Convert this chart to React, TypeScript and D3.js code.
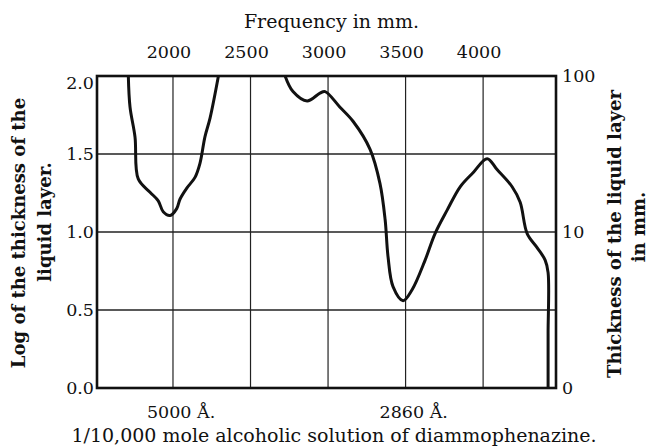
import React from 'react';
import * as d3 from 'd3';

// frequency ticks along the top (per mm)
const freqTicks = [2000, 2500, 3000, 3500, 4000];
const logTicks = [0, 0.5, 1.0, 1.5, 2.0];
const logLabels = ['0.0', '0.5', '1.0', '1.5', '2.0'];
const thickTicks = [0, 1, 2];
const thickLabels = ['0', '10', '100'];
const waveMarks = [2000, 3500];
const waveLabels = ['5000 Å.', '2860 Å.'];

// absorption curve: [frequency, log thickness]
const band1: [number, number][] = [
  [1712, 2.0], [1723, 1.8], [1755, 1.61], [1776, 1.34], [1852, 1.255],
  [1905, 1.2], [1937, 1.13], [1981, 1.106], [2024, 1.15], [2045, 1.21],
  [2088, 1.28], [2142, 1.35], [2174, 1.44], [2206, 1.61], [2239, 1.73],
  [2293, 2.0],
];
const band2: [number, number][] = [
  [2723, 2.0], [2774, 1.9], [2865, 1.84], [2948, 1.89], [2981, 1.9],
  [3077, 1.8], [3161, 1.71], [3271, 1.53], [3335, 1.31], [3368, 1.08],
  [3387, 0.84], [3419, 0.65], [3484, 0.56], [3542, 0.63], [3626, 0.82],
  [3690, 0.99], [3768, 1.14], [3852, 1.29], [3935, 1.38], [4026, 1.47],
  [4090, 1.4], [4187, 1.29], [4239, 1.19], [4284, 0.99], [4348, 0.9],
  [4400, 0.82], [4419, 0.74], [4419, 0.35], [4419, 0.0],
];

const W = 654, H = 447;
const margin = { top: 76, right: 98, bottom: 59, left: 97 };
const font = "'DejaVu Serif', serif";

export default function App() {
  const x = d3.scaleLinear().domain([1510, 4470]).range([margin.left, W - margin.right]);
  const y = d3.scaleLinear().domain([0, 2]).range([H - margin.bottom, margin.top]);
  const line = d3.line<[number, number]>()
    .x(d => x(d[0]))
    .y(d => y(d[1]))
    .curve(d3.curveCatmullRom.alpha(0.5));

  const x0 = x.range()[0], x1 = x.range()[1];
  const y0 = y.range()[0], y1 = y.range()[1];

  return (
    <svg width={W} height={H} style={{ position: 'absolute', left: 0, top: 0, background: '#fff' }}
      fontFamily={font} fill="#111">
      {/* grid */}
      {freqTicks.map(f => (
        <line key={'v' + f} x1={x(f)} x2={x(f)} y1={y1} y2={y0} stroke="#222" strokeWidth={1.2} />
      ))}
      {logTicks.slice(1, 4).map(v => (
        <line key={'h' + v} x1={x0} x2={x1} y1={y(v)} y2={y(v)} stroke="#222" strokeWidth={1.3} />
      ))}
      <rect x={x0} y={y1} width={x1 - x0} height={y0 - y1} fill="none" stroke="#111" strokeWidth={2.6} />

      {/* curve */}
      <path d={line(band1) || ''} fill="none" stroke="#111" strokeWidth={3} strokeLinejoin="round" />
      <path d={line(band2) || ''} fill="none" stroke="#111" strokeWidth={3} strokeLinejoin="round" />

      {/* top axis */}
      <text x={(x0 + x1) / 2 + 5} y={28} textAnchor="middle" fontSize={19}>Frequency in mm.</text>
      {freqTicks.map(f => (
        <text key={'t' + f} x={x(f) - 4} y={58} textAnchor="middle" fontSize={17.5}>{f}</text>
      ))}

      {/* left axis */}
      {logTicks.map((v, i) => (
        <text key={'l' + v} x={x0 - 3} y={Math.max(y(v) + 6, y1 + 13)} textAnchor="end" fontSize={17.5}>{logLabels[i]}</text>
      ))}
      <g transform={`translate(25, 233)`}>
        <text transform="rotate(-90)" textAnchor="middle" fontSize={18} fontWeight="bold">Log of the thickness of the</text>
      </g>
      <g transform={`translate(51, 222)`}>
        <text transform="rotate(-90)" textAnchor="middle" fontSize={18} fontWeight="bold">liquid layer.</text>
      </g>

      {/* right axis */}
      {thickTicks.map((v, i) => (
        <text key={'r' + v} x={x1 + 6} y={y(v) + 6} textAnchor="start" fontSize={17.5}>{thickLabels[i]}</text>
      ))}
      <g transform={`translate(621, 234)`}>
        <text transform="rotate(-90)" textAnchor="middle" fontSize={18} fontWeight="bold">Thickness of the liquid layer</text>
      </g>
      <g transform={`translate(645, 227)`}>
        <text transform="rotate(-90)" textAnchor="middle" fontSize={18} fontWeight="bold">in mm.</text>
      </g>

      {/* wavelength marks and caption */}
      {waveMarks.map((f, i) => (
        <text key={'w' + f} x={x(f) - 26} y={418} textAnchor="start" fontSize={17.5}>{waveLabels[i]}</text>
      ))}
      <text x={334} y={442} textAnchor="middle" fontSize={19}>1/10,000 mole alcoholic solution of diammophenazine.</text>
    </svg>
  );
}
